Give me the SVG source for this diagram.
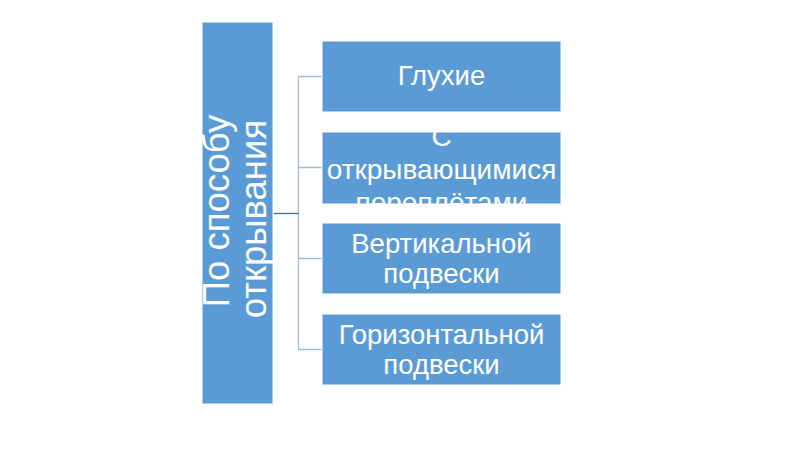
<svg xmlns="http://www.w3.org/2000/svg" width="800" height="450" viewBox="0 0 800 450">
<defs>
<style>
.box{fill:#5B9BD5;stroke:#FFFFFF;stroke-width:1}
.t{font-family:"Liberation Sans",Arial,sans-serif;fill:#FFFFFF;text-anchor:middle}
.c{fill:none;stroke:#A5B8D4;stroke-width:1.3}
</style>
<clipPath id="cb2"><rect x="322" y="132" width="239" height="72"/></clipPath>
</defs>
<rect width="800" height="450" fill="#FFFFFF"/>
<g id="connectors">
<path class="c" d="M298.5 76.5 H322 M298.5 167.5 H322 M298.5 258.5 H322 M298.5 349.5 H322 M298.5 76.5 V349.5"/>
<path d="M273 213.5 H298.5" fill="none" stroke="#41719C" stroke-width="1.3"/>
</g>
<g id="root">
<rect class="box" x="202" y="22" width="71" height="382"/>
<g transform="translate(238,213) rotate(-90)">
<text class="t" x="2" y="-9" font-size="36.5">По способу</text>
<text class="t" x="-6" y="28" font-size="36.5">открывания</text>
</g>
</g>
<g id="n1">
<rect class="box" x="322" y="41" width="239" height="71"/>
<text class="t" x="441.5" y="85" font-size="27.5">Глухие</text>
</g>
<g id="n2">
<rect class="box" x="322" y="132" width="239" height="72"/>
<text class="t" font-size="28" clip-path="url(#cb2)"><tspan x="441.5" y="146">С</tspan><tspan x="441.5" y="179">открывающимися</tspan><tspan x="441.5" y="212">переплётами</tspan></text>
</g>
<g id="n3">
<rect class="box" x="322" y="223" width="239" height="71"/>
<text class="t" font-size="27.5"><tspan x="441.5" y="253">Вертикальной</tspan><tspan x="441.5" y="283">подвески</tspan></text>
</g>
<g id="n4">
<rect class="box" x="322" y="314" width="239" height="71"/>
<text class="t" font-size="27.5"><tspan x="441.5" y="344">Горизонтальной</tspan><tspan x="441.5" y="374">подвески</tspan></text>
</g>
</svg>
